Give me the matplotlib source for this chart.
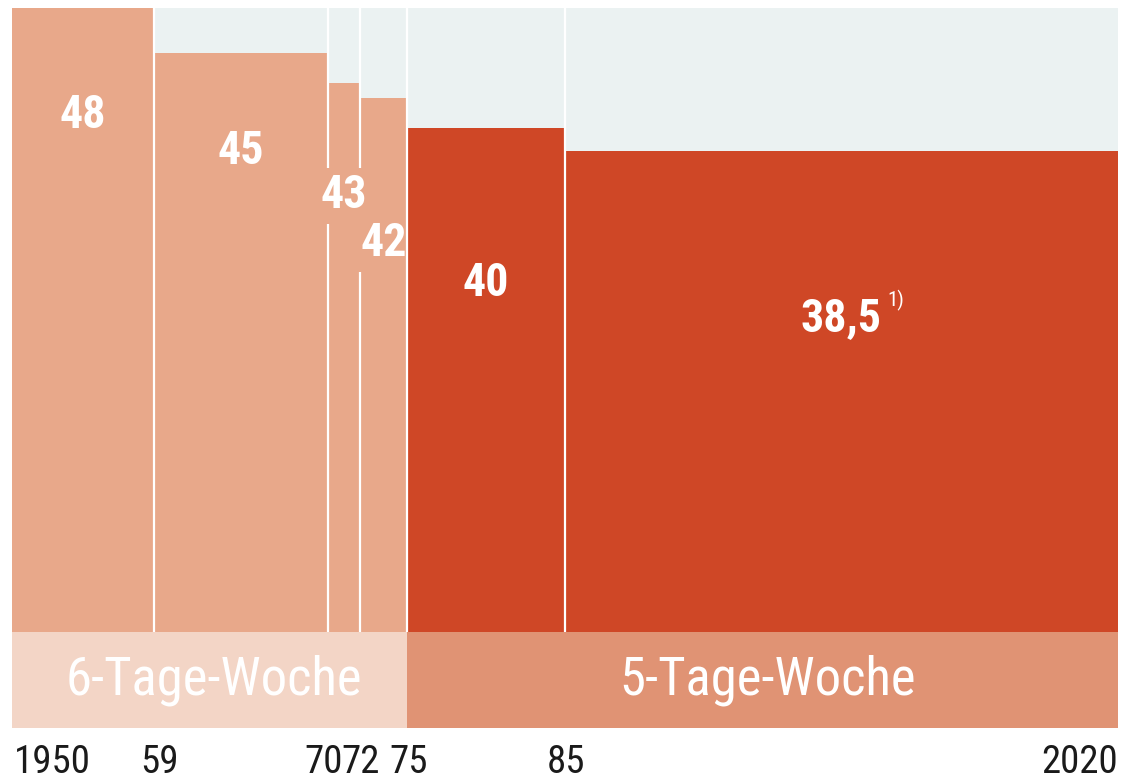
import matplotlib
matplotlib.use("Agg")
import matplotlib.pyplot as plt
from matplotlib.font_manager import fontManager
from matplotlib.patches import Rectangle

# ---- data ----
starts = [1950, 1959, 1970, 1972, 1975, 1985]
ends = [1959, 1970, 1972, 1975, 1985, 2020]
hours = [48, 45, 43, 42, 40, 38.5]
labels = ["48", "45", "43", "42", "40", "38,5"]
tick_years = [1950, 1959, 1970, 1972, 1975, 1985, 2020]
tick_labels = ["1950", "59", "70", "72", "75", "85", "2020"]
band_names = ["6-Tage-Woche", "5-Tage-Woche"]
band_start = [1950, 1975]
band_end = [1975, 2020]

# ---- style ----
names = {f.name for f in fontManager.ttflist}
FAM = None
for cand in ["Roboto Condensed", "Archivo Narrow", "Liberation Sans Narrow", "Barlow Semi Condensed", "Barlow Condensed"]:
    if cand in names:
        FAM = [cand, "DejaVu Sans"]
        STR = "normal"
        break
if FAM is None:
    FAM = ["DejaVu Sans"]
    STR = "condensed"

light = "#e8a88a"
dark = "#cf4726"
bar_colors = [light, light, light, light, dark, dark]
band_colors = ["#f3d5c6", "#e09374"]
bg = "#ebf2f2"
band_h = 6.4
label_drop = [7.1, 6.5, 7.5, 9.7, 10.3, 11.2]
label_box = [False, False, True, True, False, False]

fig = plt.figure(figsize=(11.21, 7.8), dpi=100)
ax = fig.add_axes([12 / 1121, (780 - 728) / 780, 1106 / 1121, 720 / 780])
ax.set_xlim(1950, 2020)
ax.set_ylim(0, 48)
ax.axis("off")

# background above bands
ax.bar(1950, 48 - band_h, width=70, bottom=band_h, align="edge", color=bg, linewidth=0, zorder=0)

# bars
for s, e, h, c in zip(starts, ends, hours, bar_colors):
    ax.bar(s, h - band_h, width=e - s, bottom=band_h, align="edge", color=c, linewidth=0, zorder=1)

# separators
for s in starts[1:]:
    ax.plot([s, s], [band_h, 48], color="white", lw=1.6, zorder=2, solid_capstyle="butt")

# value labels
texts = []
for s, e, h, lab, d in zip(starts, ends, hours, labels, label_drop):
    t = ax.text((s + e) / 2, h - d, lab, ha="center", va="center", color="white",
                fontsize=33, fontweight="bold", family=FAM, stretch=STR, zorder=3)
    texts.append(t)

# footnote marker next to last label
ax.annotate("1)", xy=((starts[-1] + ends[-1]) / 2, hours[-1] - label_drop[-1]),
            xytext=(33, 13), textcoords="offset points", ha="left", va="center",
            color="white", fontsize=15, family=FAM, stretch=STR, zorder=3)

# bands
for bs, be, name, c in zip(band_start, band_end, band_names, band_colors):
    ax.bar(bs, band_h, width=be - bs, bottom=0, align="edge", color=c, linewidth=0, zorder=1)
    ax.text((bs + be) / 2 + 0.3, band_h / 2, name, ha="center", va="center",
            color="white", fontsize=38, family=FAM, stretch=STR, zorder=3)

# year labels
nudge = [0, 5, -4, 1, 2, 1, 0]
for y, t, n in zip(tick_years, tick_labels, nudge):
    ha = "left" if y == tick_years[0] else ("right" if y == tick_years[-1] else "center")
    dx = 2 if ha == "left" else n
    ax.annotate(t, xy=(y, 0), xytext=(dx * 0.72, -32.5), textcoords="offset points",
                ha=ha, va="baseline", color="#1a1a1a", fontsize=28, family=FAM, stretch=STR,
                annotation_clip=False)

# background boxes behind crowded labels (interrupt separators), kept inside the 6-day block
fig.canvas.draw()
r = fig.canvas.get_renderer()
inv = ax.transData.inverted()
for t, box, c in zip(texts, label_box, bar_colors):
    if not box:
        continue
    bb = t.get_window_extent(r)
    (x0, y0), (x1, y1) = inv.transform([[bb.x0 - 6, bb.y0 - 6], [bb.x1 + 6, bb.y1 + 6]])
    x1 = min(x1, band_end[0] - 0.1)
    rect = Rectangle((x0, y0), x1 - x0, y1 - y0, facecolor=c, edgecolor="none", zorder=2.5)
    ax.add_patch(rect)

fig.savefig("out.png", dpi=100, facecolor="white")
